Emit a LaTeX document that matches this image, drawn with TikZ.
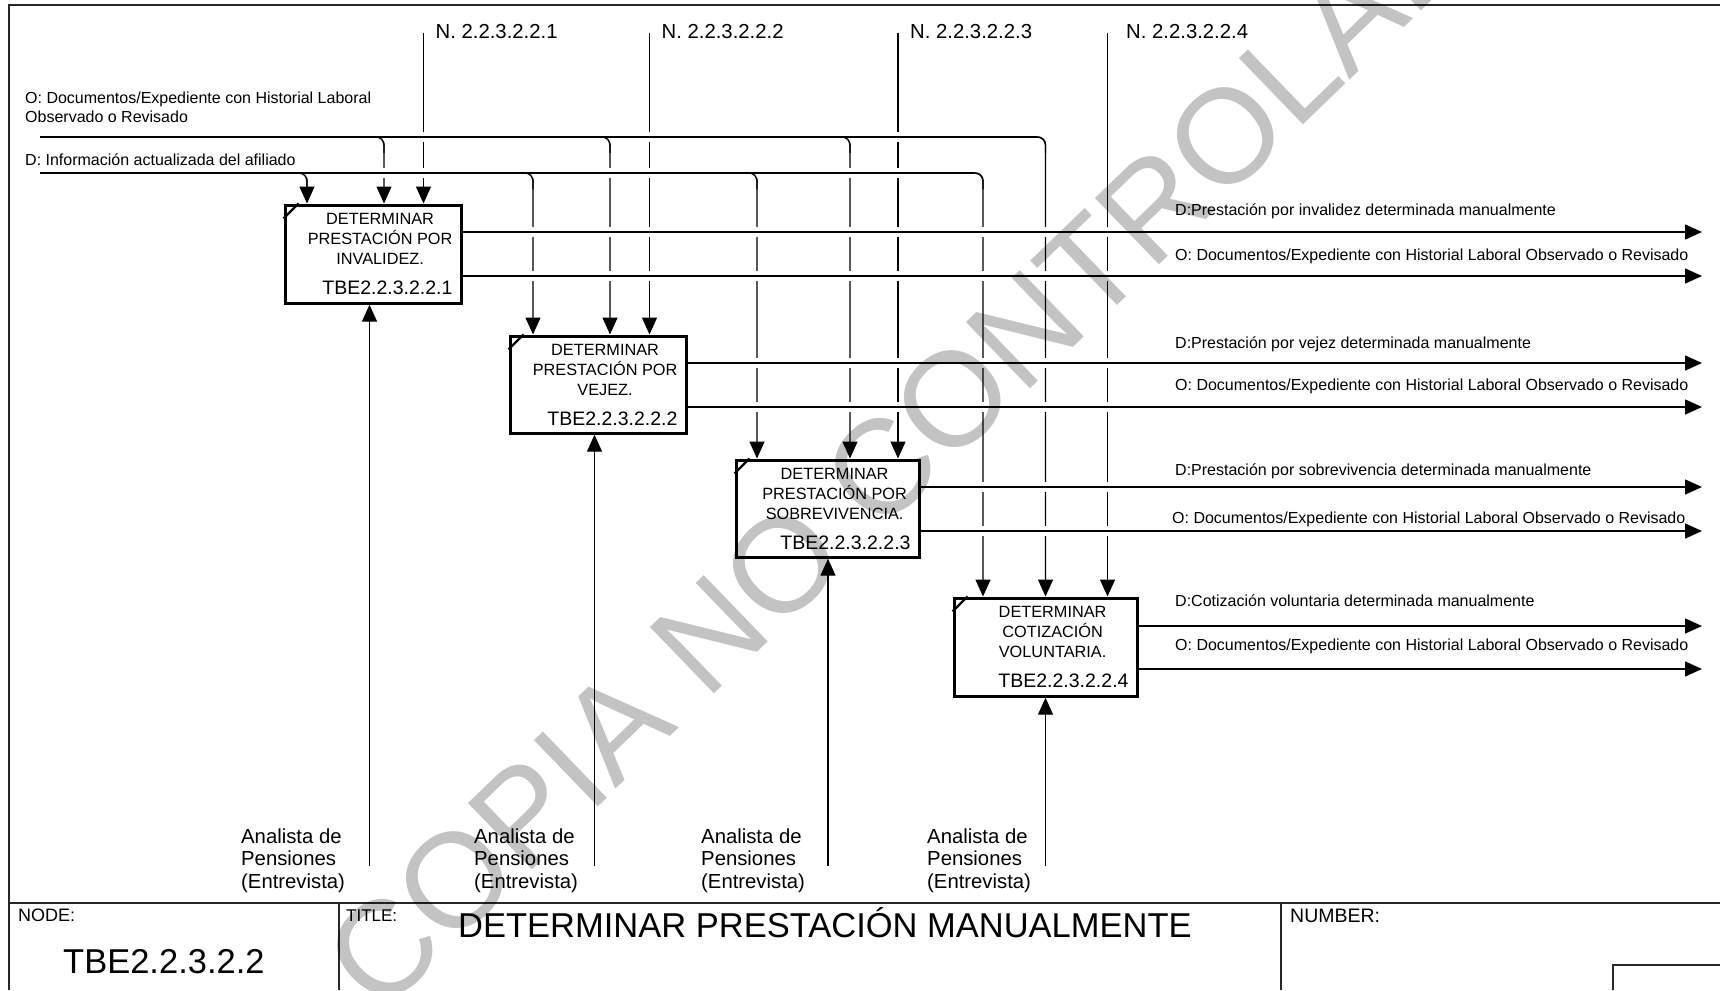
\documentclass[tikz,border=0pt]{standalone}
\usepackage{fontspec}
\setmainfont{Liberation Sans}
\usetikzlibrary{arrows.meta,calc}
\definecolor{wm}{RGB}{195,195,195}
\definecolor{framec}{RGB}{40,40,40}
\tikzset{
  conn/.style={line width=1.4pt, draw=black},
  arr/.style={conn, -{Triangle[length=17pt,width=15pt]}},
  halo/.style={draw=white, line width=10pt},
  pbox/.style={draw=black, line width=3.2pt, fill=white, rectangle, inner sep=0pt, anchor=north west},
  btxt/.style={anchor=base, inner sep=0pt, font=\fontsize{16.3}{19}\selectfont},
  bid/.style={anchor=base east, inner sep=0pt, font=\fontsize{19.5}{22}\selectfont},
  lab/.style={anchor=base west, inner sep=0pt, font=\fontsize{16}{19}\selectfont},
  nlab/.style={anchor=base west, inner sep=0pt, font=\fontsize{20.3}{23}\selectfont},
  mlab/.style={anchor=base west, inner sep=0pt, font=\fontsize{20.3}{23}\selectfont},
  fline/.style={draw=framec, line width=2pt},
  corner/.style={line width=2.2pt, draw=black},
}
\begin{document}
\begin{tikzpicture}[x=1pt,y=-1pt]
\useasboundingbox (0,0) rectangle (1720,990);
\fill[white] (0,0) rectangle (1720,990);

% frame and title block
\draw[fline] (9,990) -- (9,5) -- (1720,5);
\draw[fline] (9,903) -- (1720,903);
\draw[fline] (339,903) -- (339,990);
\draw[fline] (1281,903) -- (1281,990);
\draw[fline] (1613,990) -- (1613,965) -- (1720,965);
\node[anchor=base west, inner sep=0pt, font=\fontsize{18}{20}\selectfont] (nodel) at (18,921) {NODE:};
\node[anchor=base west, inner sep=0pt, font=\fontsize{34.5}{40}\selectfont] (nodeid) at (63,973) {TBE2.2.3.2.2};
\node[anchor=base west, inner sep=0pt, font=\fontsize{17}{19}\selectfont] (titlel) at (346,921) {TITLE:};
\node[anchor=base west, inner sep=0pt, font=\fontsize{34.5}{40}\selectfont] (title) at (458,937) {DETERMINAR PRESTACIÓN MANUALMENTE};
\node[anchor=base west, inner sep=0pt, font=\fontsize{19.5}{21}\selectfont] (numl) at (1290,922) {NUMBER:};

% box geometry
\path (283.5,203.5) node[pbox, draw=none, fill=none, minimum width=176pt, minimum height=98pt] (b1) {};
\path (508.5,334.5) node[pbox, draw=none, fill=none, minimum width=176pt, minimum height=97pt] (b2) {};
\path (734.5,458.5) node[pbox, draw=none, fill=none, minimum width=183pt, minimum height=97pt] (b3) {};
\path (952.5,596.5) node[pbox, draw=none, fill=none, minimum width=183pt, minimum height=98pt] (b4) {};

% coordinates
\coordinate (oin) at (40,137);
\coordinate (din) at (40,173);
\coordinate (o1) at (384,137);
\coordinate (o2) at (610,137);
\coordinate (o3) at (850,137);
\coordinate (o4) at (1045.5,137);
\coordinate (d1) at (307,173);
\coordinate (d2) at (533,173);
\coordinate (d3) at (757,173);
\coordinate (d4) at (983,173);
\coordinate (n1) at (423.5,33);
\coordinate (n2) at (649.5,33);
\coordinate (n3) at (898,33);
\coordinate (n4) at (1107.5,33);
\coordinate (m1) at (369.5,866);
\coordinate (m2) at (594.5,866);
\coordinate (m3) at (828,866);
\coordinate (m4) at (1045.5,866);
\coordinate (e1a) at (1702,232);
\coordinate (e1b) at (1702,276);
\coordinate (e2a) at (1702,363);
\coordinate (e2b) at (1702,407);
\coordinate (e3a) at (1702,487);
\coordinate (e3b) at (1702,531);
\coordinate (e4a) at (1702,626);
\coordinate (e4b) at (1702,669);

% vertical connectors
\foreach \i in {1,2,3,4}{
  \draw[arr] (n\i) -- (n\i |- b\i.north);
  \draw[arr] (m\i) -- (m\i |- b\i.south);
  \draw[arr, rounded corners=8pt] (oin) -- (o\i) -- (o\i |- b\i.north);
  \draw[arr, rounded corners=8pt] (din) -- (d\i) -- (d\i |- b\i.north);
}

% halos for line crossings
\draw[halo] (oin) -- ($(o4)+(-9,0)$);
\draw[halo] (din) -- ($(d4)+(-9,0)$);
\foreach \i in {1,2,3,4}{
  \draw[halo] ($(b\i.east |- e\i a)+(4,0)$) -- ($(e\i a)+(-18,0)$);
  \draw[halo] ($(b\i.east |- e\i b)+(4,0)$) -- ($(e\i b)+(-18,0)$);
}

% horizontal connectors
\draw[conn] (oin) -- ($(o4)+(-9,0)$);
\draw[conn] (din) -- ($(d4)+(-9,0)$);
\foreach \i in {1,2,3,4}{
  \draw[conn, rounded corners=8pt] ($(o\i)+(-20,0)$) -- (o\i) -- ($(o\i)+(0,16)$);
  \draw[conn, rounded corners=8pt] ($(d\i)+(-20,0)$) -- (d\i) -- ($(d\i)+(0,16)$);
  \draw[arr] (b\i.east |- e\i a) -- (e\i a);
  \draw[arr] (b\i.east |- e\i b) -- (e\i b);
}

% boxes
\node[pbox, minimum width=176pt, minimum height=98pt] (b1f) at (283.5,203.5) {};
\node[pbox, minimum width=176pt, minimum height=97pt] (b2f) at (508.5,334.5) {};
\node[pbox, minimum width=183pt, minimum height=97pt] (b3f) at (734.5,458.5) {};
\node[pbox, minimum width=183pt, minimum height=98pt] (b4f) at (952.5,596.5) {};
\foreach \i in {1,2,3,4}{
  \draw[corner] ($(b\i.north west)+(0,15)$) -- ($(b\i.north west)+(15,0)$);
}

\node[btxt] (b1t1) at ($(b1.north)+(7,21)$) {DETERMINAR};
\node[btxt] (b1t2) at ($(b1.north)+(7,41)$) {PRESTACIÓN POR};
\node[btxt] (b1t3) at ($(b1.north)+(7,61)$) {INVALIDEZ.};
\node[bid] (b1id) at ($(b1.north east)+(-10,91)$) {TBE2.2.3.2.2.1};

\node[btxt] (b2t1) at ($(b2.north)+(7,21)$) {DETERMINAR};
\node[btxt] (b2t2) at ($(b2.north)+(7,41)$) {PRESTACIÓN POR};
\node[btxt] (b2t3) at ($(b2.north)+(7,61)$) {VEJEZ.};
\node[bid] (b2id) at ($(b2.north east)+(-10,91)$) {TBE2.2.3.2.2.2};

\node[btxt] (b3t1) at ($(b3.north)+(7,21)$) {DETERMINAR};
\node[btxt] (b3t2) at ($(b3.north)+(7,41)$) {PRESTACIÓN POR};
\node[btxt] (b3t3) at ($(b3.north)+(7,61)$) {SOBREVIVENCIA.};
\node[bid] (b3id) at ($(b3.north east)+(-10,91)$) {TBE2.2.3.2.2.3};

\node[btxt] (b4t1) at ($(b4.north)+(7,21)$) {DETERMINAR};
\node[btxt] (b4t2) at ($(b4.north)+(7,41)$) {COTIZACIÓN};
\node[btxt] (b4t3) at ($(b4.north)+(7,61)$) {VOLUNTARIA.};
\node[bid] (b4id) at ($(b4.north east)+(-10,91)$) {TBE2.2.3.2.2.4};

% input labels
\node[lab] (olab1) at (25,103) {O: Documentos/Expediente con Historial Laboral};
\node[lab] (olab2) at (25,122.5) {Observado o Revisado};
\node[lab] (dlab) at (25,165) {D: Información actualizada del afiliado};

% control labels
\node[nlab] (n1l) at (435.5,39) {N. 2.2.3.2.2.1};
\node[nlab] (n2l) at (661.5,39) {N. 2.2.3.2.2.2};
\node[nlab] (n3l) at (910,39) {N. 2.2.3.2.2.3};
\node[nlab] (n4l) at (1126,39) {N. 2.2.3.2.2.4};

% output labels
\node[lab] (l1a) at (1175,215) {D:Prestación por invalidez determinada manualmente};
\node[lab] (l1b) at (1175,260) {O: Documentos/Expediente con Historial Laboral Observado o Revisado};
\node[lab] (l2a) at (1175,348) {D:Prestación por vejez determinada manualmente};
\node[lab] (l2b) at (1175,390) {O: Documentos/Expediente con Historial Laboral Observado o Revisado};
\node[lab] (l3a) at (1175,475) {D:Prestación por sobrevivencia determinada manualmente};
\node[lab] (l3b) at (1172,523.5) {O: Documentos/Expediente con Historial Laboral Observado o Revisado};
\node[lab] (l4a) at (1175,606) {D:Cotización voluntaria determinada manualmente};
\node[lab] (l4b) at (1175,650) {O: Documentos/Expediente con Historial Laboral Observado o Revisado};

% mechanism labels
\foreach \i/\x in {1/241,2/474,3/701,4/927}{
  \node[mlab] (ma\i) at (\x,843) {Analista de};
  \node[mlab] (mb\i) at (\x,865.5) {Pensiones};
  \node[mlab] (mc\i) at (\x,888) {(Entrevista)};
}

% watermark
\begin{scope}[blend mode=multiply]
\node[font=\fontsize{134}{134}\selectfont, text=wm, rotate=44, inner sep=0pt] (wmark) at (932,420) {COPIA NO CONTROLADA};
\end{scope}
\end{tikzpicture}
\end{document}
